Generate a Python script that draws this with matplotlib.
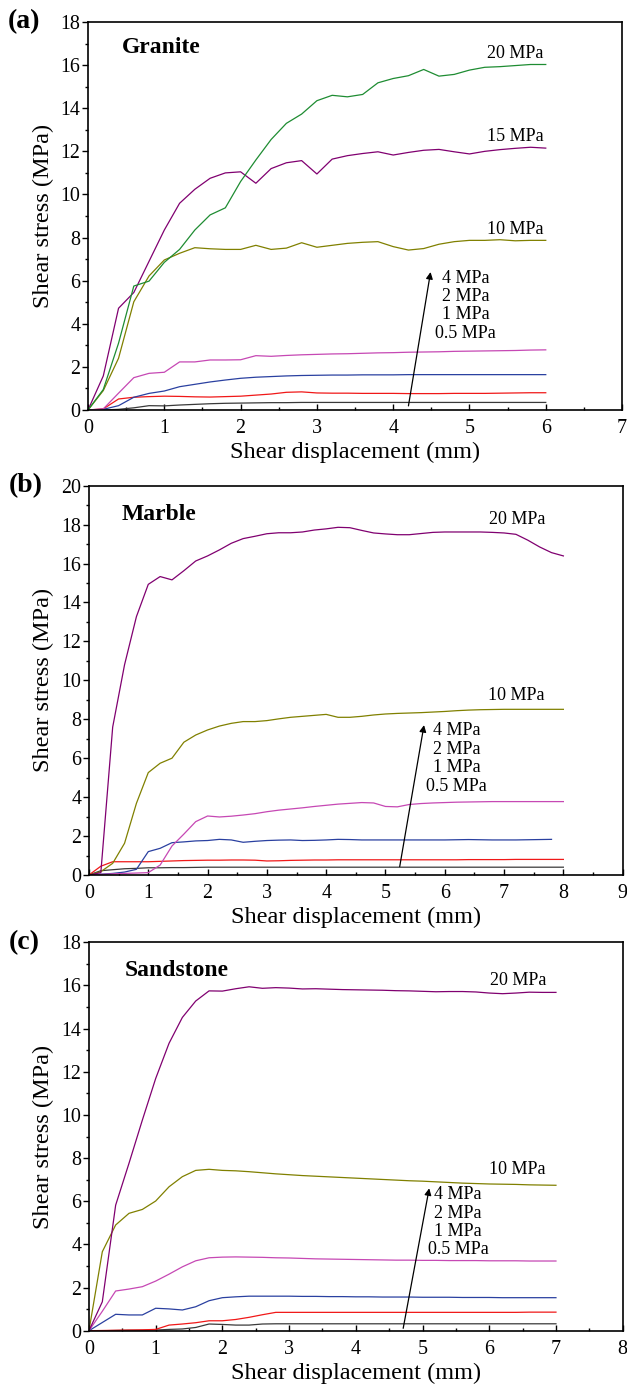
import numpy as np
import matplotlib
matplotlib.use("Agg")
import matplotlib.pyplot as plt
from matplotlib.ticker import MultipleLocator

plt.rcParams['font.family'] = ['Liberation Serif', 'DejaVu Serif']

# ---------------- data ----------------
# (a) Granite, x every 0.2 mm from 0 to 6
x_a = np.round(np.arange(0, 6.01, 0.2), 1)
granite_20 = [0, 0.95, 3.1, 5.75, 5.98, 6.85, 7.45, 8.35, 9.05, 9.38,
              10.6, 11.6, 12.55, 13.3, 13.73, 14.35, 14.6, 14.53, 14.64, 15.18,
              15.38, 15.51, 15.8, 15.49, 15.57, 15.77, 15.9, 15.93, 15.98, 16.03, 16.03]
granite_15 = [0, 1.58, 4.72, 5.45, 6.9, 8.35, 9.59, 10.24, 10.75, 11.0,
              11.05, 10.52, 11.2, 11.47, 11.57, 10.95, 11.64, 11.8, 11.9, 11.98,
              11.83, 11.95, 12.05, 12.09, 11.98, 11.88, 12.0, 12.08, 12.14, 12.19, 12.15]
granite_10 = [0, 0.9, 2.4, 5.02, 6.22, 6.96, 7.27, 7.53, 7.48, 7.45,
              7.45, 7.64, 7.45, 7.51, 7.76, 7.55, 7.64, 7.73, 7.78, 7.81,
              7.58, 7.42, 7.49, 7.69, 7.81, 7.87, 7.87, 7.9, 7.85, 7.87, 7.87]
granite_4 = [0, 0.05, 0.78, 1.5, 1.7, 1.75, 2.23, 2.23, 2.32, 2.32,
             2.33, 2.52, 2.49, 2.53, 2.56, 2.58, 2.6, 2.61, 2.63, 2.65,
             2.66, 2.68, 2.69, 2.7, 2.72, 2.73, 2.74, 2.75, 2.76, 2.78, 2.79]
granite_2 = [0, 0.03, 0.2, 0.59, 0.77, 0.88, 1.08, 1.19, 1.3, 1.39,
             1.47, 1.52, 1.55, 1.58, 1.6, 1.61, 1.62, 1.62, 1.63, 1.63,
             1.63, 1.64, 1.64, 1.64, 1.64, 1.64, 1.64, 1.64, 1.64, 1.64, 1.64]
granite_1 = [0, 0.05, 0.51, 0.59, 0.62, 0.64, 0.63, 0.61, 0.6, 0.62,
             0.64, 0.69, 0.74, 0.82, 0.84, 0.79, 0.78, 0.78, 0.77, 0.77,
             0.77, 0.76, 0.76, 0.76, 0.77, 0.77, 0.77, 0.78, 0.79, 0.8, 0.8]
granite_05 = [0, 0, 0.03, 0.1, 0.2, 0.19, 0.23, 0.26, 0.29, 0.31,
              0.32, 0.33, 0.34, 0.34, 0.35, 0.35, 0.35, 0.35, 0.35, 0.35,
              0.35, 0.35, 0.35, 0.35, 0.35, 0.35, 0.35, 0.35, 0.35, 0.35, 0.35]

# (b) Marble, x every 0.2 mm from 0 to 8
x_b = np.round(np.arange(0, 8.01, 0.2), 1)
marble_20 = [0, 0.12, 7.6, 10.8, 13.27, 14.93, 15.33, 15.16, 15.63, 16.13,
             16.39, 16.7, 17.04, 17.28, 17.4, 17.53, 17.58, 17.58, 17.62, 17.72,
             17.78, 17.86, 17.84, 17.7, 17.57, 17.52, 17.48, 17.48, 17.54, 17.6,
             17.62, 17.62, 17.62, 17.62, 17.6, 17.57, 17.5, 17.2, 16.85, 16.56, 16.39]
marble_10 = [0, 0.17, 0.6, 1.63, 3.68, 5.26, 5.74, 6.0, 6.82, 7.19,
             7.45, 7.65, 7.79, 7.88, 7.88, 7.93, 8.02, 8.1, 8.15, 8.2,
             8.25, 8.1, 8.1, 8.15, 8.22, 8.27, 8.3, 8.32, 8.34, 8.37,
             8.4, 8.44, 8.47, 8.49, 8.5, 8.51, 8.51, 8.51, 8.51, 8.51, 8.51]
marble_4 = [0, 0.03, 0.06, 0.08, 0.1, 0.12, 0.51, 1.49, 2.1, 2.74,
            3.03, 2.98, 3.02, 3.08, 3.15, 3.25, 3.33, 3.39, 3.45, 3.52,
            3.58, 3.64, 3.68, 3.72, 3.7, 3.52, 3.5, 3.62, 3.67, 3.7,
            3.72, 3.74, 3.75, 3.76, 3.77, 3.77, 3.77, 3.77, 3.77, 3.77, 3.77]
marble_2 = [0, 0.04, 0.08, 0.15, 0.29, 1.2, 1.37, 1.66, 1.7, 1.75,
            1.77, 1.83, 1.8, 1.68, 1.73, 1.77, 1.79, 1.8, 1.77, 1.78,
            1.8, 1.83, 1.82, 1.8, 1.8, 1.8, 1.8, 1.8, 1.8, 1.8,
            1.8, 1.81, 1.82, 1.81, 1.8, 1.8, 1.8, 1.81, 1.82, 1.83]
marble_1 = [0, 0.45, 0.68, 0.68, 0.68, 0.68, 0.7, 0.72, 0.74, 0.75,
            0.76, 0.76, 0.77, 0.77, 0.76, 0.72, 0.73, 0.75, 0.76, 0.77,
            0.77, 0.78, 0.78, 0.78, 0.78, 0.78, 0.78, 0.78, 0.78, 0.78,
            0.78, 0.78, 0.79, 0.79, 0.79, 0.79, 0.8, 0.8, 0.8, 0.8, 0.8]
marble_05 = [0, 0.22, 0.27, 0.32, 0.34, 0.37, 0.37, 0.38, 0.38, 0.39,
             0.4, 0.4, 0.4, 0.4, 0.4, 0.4, 0.4, 0.4, 0.4, 0.4,
             0.4, 0.4, 0.4, 0.4, 0.4, 0.4, 0.4, 0.4, 0.4, 0.4,
             0.4, 0.4, 0.4, 0.4, 0.4, 0.4, 0.4, 0.4, 0.4, 0.4, 0.4]

# (c) Sandstone, x every 0.2 mm from 0 to 7
x_c = np.round(np.arange(0, 7.01, 0.2), 1)
sand_20 = [0, 1.34, 5.82, 7.76, 9.76, 11.69, 13.32, 14.52, 15.28, 15.75,
           15.74, 15.85, 15.94, 15.87, 15.9, 15.88, 15.84, 15.85, 15.83, 15.81,
           15.8, 15.79, 15.78, 15.76, 15.75, 15.73, 15.71, 15.72, 15.72, 15.7,
           15.65, 15.62, 15.65, 15.69, 15.68, 15.68]
sand_10 = [0, 3.66, 4.9, 5.44, 5.62, 6.01, 6.67, 7.14, 7.43, 7.48,
           7.43, 7.41, 7.37, 7.32, 7.27, 7.23, 7.19, 7.16, 7.13, 7.1,
           7.07, 7.04, 7.01, 6.98, 6.95, 6.93, 6.9, 6.87, 6.84, 6.82,
           6.8, 6.79, 6.78, 6.76, 6.75, 6.74]
sand_4 = [0, 0.9, 1.84, 1.93, 2.04, 2.3, 2.62, 2.96, 3.24, 3.38,
          3.41, 3.42, 3.41, 3.4, 3.38, 3.37, 3.35, 3.33, 3.32, 3.31,
          3.3, 3.29, 3.28, 3.27, 3.27, 3.26, 3.26, 3.25, 3.25, 3.25,
          3.24, 3.24, 3.24, 3.23, 3.23, 3.23]
sand_2 = [0, 0.38, 0.76, 0.73, 0.73, 1.04, 1.01, 0.96, 1.11, 1.39,
          1.53, 1.57, 1.6, 1.6, 1.6, 1.6, 1.59, 1.59, 1.58, 1.58,
          1.57, 1.57, 1.56, 1.56, 1.56, 1.55, 1.55, 1.55, 1.54, 1.54,
          1.54, 1.53, 1.53, 1.53, 1.53, 1.53]
sand_1 = [0, 0.01, 0.02, 0.03, 0.04, 0.06, 0.26, 0.31, 0.37, 0.46,
          0.46, 0.52, 0.62, 0.74, 0.85, 0.85, 0.85, 0.85, 0.85, 0.85,
          0.85, 0.85, 0.85, 0.85, 0.85, 0.85, 0.85, 0.85, 0.85, 0.85,
          0.85, 0.85, 0.85, 0.86, 0.86, 0.86]
sand_05 = [0, 0, 0.01, 0.02, 0.02, 0.03, 0.06, 0.08, 0.15, 0.31,
           0.29, 0.26, 0.26, 0.31, 0.32, 0.32, 0.32, 0.32, 0.32, 0.32,
           0.32, 0.32, 0.32, 0.32, 0.32, 0.32, 0.32, 0.32, 0.32, 0.32,
           0.32, 0.32, 0.32, 0.32, 0.32, 0.32]

low_labels = ['4 MPa', '2 MPa', '1 MPa', '0.5 MPa']

# colours
C_PURPLE = '#800070'
C_GREEN = '#1e8c32'
C_OLIVE = '#808000'
C_PINK = '#c648b4'
C_BLUE = '#2a40a0'
C_RED = '#f01818'
C_BLACK = '#3a3a3a'

LW = 0.9

fig = plt.figure(figsize=(6.27, 13.86), dpi=100)

panels = [
    # axes rect, xmax, ymax, label, rock, curves, big labels, arrow, text pos
    dict(rect=[0.1404, 0.7042, 0.8517, 0.2799], xmax=7, ymax=18, tag='(a)', rock='Granite',
         rock_xy=(0.44, 16.8),
         curves=[(x_a, granite_05, C_BLACK), (x_a, granite_1, C_RED), (x_a, granite_2, C_BLUE),
                 (x_a, granite_4, C_PINK), (x_a, granite_10, C_OLIVE), (x_a, granite_15, C_PURPLE),
                 (x_a, granite_20, C_GREEN)],
         big=[('20 MPa', 5.97, 16.55), ('15 MPa', 5.97, 12.71), ('10 MPa', 5.97, 8.38)],
         arrow=((4.2, 0.19), (4.49, 6.4)), txt_x=4.95, txt_y=[6.11, 5.26, 4.41, 3.56]),
    dict(rect=[0.1419, 0.3687, 0.8512, 0.2809], xmax=9, ymax=20, tag='(b)', rock='Marble',
         rock_xy=(0.55, 18.5),
         curves=[(x_b, marble_05, C_BLACK), (x_b, marble_1, C_RED), (x_b[:len(marble_2)], marble_2, C_BLUE),
                 (x_b, marble_4, C_PINK), (x_b, marble_10, C_OLIVE), (x_b, marble_20, C_PURPLE)],
         big=[('20 MPa', 7.69, 18.27), ('10 MPa', 7.69, 9.21)],
         arrow=((5.24, 0.43), (5.65, 7.7)), txt_x=6.2, txt_y=[7.4, 6.47, 5.51, 4.57]),
    dict(rect=[0.1419, 0.0399, 0.8512, 0.2802], xmax=8, ymax=18, tag='(c)', rock='Sandstone',
         rock_xy=(0.54, 16.71),
         curves=[(x_c, sand_05, C_BLACK), (x_c, sand_1, C_RED), (x_c, sand_2, C_BLUE),
                 (x_c, sand_4, C_PINK), (x_c, sand_10, C_OLIVE), (x_c, sand_20, C_PURPLE)],
         big=[('20 MPa', 6.85, 16.25), ('10 MPa', 6.85, 7.48)],
         arrow=((4.71, 0.11), (5.1, 6.6)), txt_x=5.535, txt_y=[6.32, 5.44, 4.59, 3.77]),
]

for p in panels:
    ax = fig.add_axes(p['rect'])
    for xs, ys, c in p['curves']:
        ax.plot(xs, ys, color=c, lw=LW)

    ax.set_xlim(0, p['xmax'])
    ax.set_ylim(0, p['ymax'])
    ax.xaxis.set_major_locator(MultipleLocator(1))
    ax.xaxis.set_minor_locator(MultipleLocator(0.5))
    ax.yaxis.set_major_locator(MultipleLocator(2))
    ax.yaxis.set_minor_locator(MultipleLocator(1))
    ax.tick_params(axis='x', which='major', direction='in', length=4.5, width=1.0,
                   labelsize=14.4, pad=6.5)
    ax.tick_params(axis='x', which='minor', direction='in', length=2.5, width=1.0)
    ax.tick_params(axis='y', which='major', direction='out', length=4, width=1.0,
                   labelsize=14.4, pad=1.5)
    ax.tick_params(axis='y', which='minor', direction='out', length=2.2, width=1.0)
    for s in ax.spines.values():
        s.set_linewidth(1.2)

    ax.set_xlabel('Shear displacement (mm)', fontsize=17.5, labelpad=3)
    ax.set_ylabel('Shear stress (MPa)', fontsize=17.5, labelpad=5)

    ax.text(p['rock_xy'][0], p['rock_xy'][1], p['rock'], fontsize=17, fontweight='bold',
            ha='left', va='center')
    ax.text(-0.15, 1.0, p['tag'], transform=ax.transAxes, fontsize=20, fontweight='bold',
            ha='left', va='center')

    for lab, bx, by in p['big']:
        ax.text(bx, by, lab, fontsize=13, ha='right', va='center')

    tail, head = p['arrow']
    ax.annotate('', xy=head, xytext=tail,
                arrowprops=dict(arrowstyle='-|>', color='k', lw=0.9, mutation_scale=10,
                                shrinkA=0, shrinkB=0))
    for lab, ty in zip(low_labels, p['txt_y']):
        ax.text(p['txt_x'], ty, lab, fontsize=13, ha='center', va='center')

plt.savefig('out.png', dpi=100)
